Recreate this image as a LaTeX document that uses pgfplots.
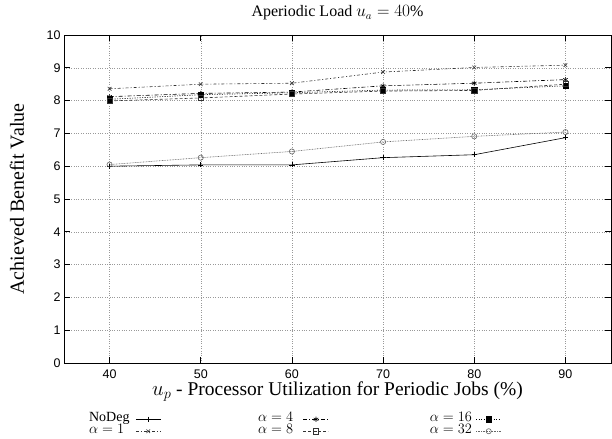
\documentclass[border=0pt]{standalone}
\usepackage{pgfplots}
\pgfplotsset{compat=1.18}
\usepackage{fontspec}
\setmainfont{Liberation Serif}
\newfontfamily\tickfont{Liberation Sans}
\begin{document}
\begin{tikzpicture}
\begin{axis}[
  name=ax,
  scale only axis,
  width=547pt, height=328pt,
  xmin=35, xmax=95,
  ymin=0, ymax=10,
  xtick={40,50,...,90},
  ytick={0,1,...,10},
  grid=major,
  major grid style={dotted, gray!80, line width=0.5pt},
  major tick length=6pt,
  tick style={black, line width=0.6pt},
  axis line style={line width=0.8pt},
  ticklabel style={font=\tickfont\fontsize{12.5}{14}\selectfont},
  xticklabel style={yshift=-3pt},
  /pgf/number format/assume math mode=true,
  every axis title shift=0pt,
  title={Aperiodic Load $u_a = 40\%$},
  title style={font=\fontsize{16}{18}\selectfont, at={(axis description cs:0.5,1.067)}, anchor=center},
  xlabel={$u_p$ - Processor Utilization for Periodic Jobs (\%)},
  xlabel style={font=\fontsize{19.5}{22}\selectfont, at={(axis description cs:0.5,-0.086)}, anchor=center},
  ylabel={Achieved Benefit Value},
  ylabel style={font=\fontsize{20}{22}\selectfont, at={(axis description cs:-0.086,0.5)}, anchor=center},
  legend columns=3,
  legend plot pos=right,
  legend cell align=left,
  legend image code/.code={\draw[mark repeat=2,mark phase=2,#1] plot coordinates {(0pt,0pt) (12.5pt,0pt) (25pt,0pt)};},
  legend style={draw=none, fill=none, font=\fontsize{14}{15}\selectfont,
    at={(axis description cs:0.04,-0.148)}, anchor=north west,
    row sep=1pt,
    nodes={inner sep=0pt, text height=8pt, text depth=3pt},
    /tikz/column 1/.style={column sep=6pt},
    /tikz/column 2/.style={column sep=97pt},
    /tikz/column 3/.style={column sep=10pt},
    /tikz/column 4/.style={column sep=101pt},
    /tikz/column 5/.style={column sep=4pt}},
  every axis plot/.append style={line width=0.6pt, mark size=2.6pt, mark options={solid}},
]
% legend row 1: NoDeg, alpha=4, alpha=16 ; row 2: alpha=1, alpha=8, alpha=32
\addplot[black, mark=+] coordinates {
  (40,6.00) (50,6.04) (60,6.04) (70,6.26) (80,6.35) (90,6.87)
};
\addlegendentry{NoDeg}
\addplot[black, mark=asterisk, dash pattern=on 4pt off 2pt on 1pt off 2pt] coordinates {
  (40,8.12) (50,8.22) (60,8.26) (70,8.45) (80,8.53) (90,8.64)
};
\addlegendentry{$\alpha = 4$}
\addplot[black, mark=square*, dash pattern=on 1pt off 1.5pt] coordinates {
  (40,8.04) (50,8.18) (60,8.24) (70,8.32) (80,8.33) (90,8.45)
};
\addlegendentry{$\alpha = 16$}
\addplot[black!80, mark=x, dash pattern=on 3pt off 2pt on 1pt off 2pt] coordinates {
  (40,8.36) (50,8.50) (60,8.53) (70,8.87) (80,9.01) (90,9.08)
};
\addlegendentry{$\alpha = 1$}
\addplot[black!80, mark=square, dash pattern=on 3pt off 2pt] coordinates {
  (40,7.99) (50,8.08) (60,8.20) (70,8.29) (80,8.31) (90,8.50)
};
\addlegendentry{$\alpha = 8$}
\addplot[black!60, mark=o, dash pattern=on 0.8pt off 0.8pt] coordinates {
  (40,6.05) (50,6.26) (60,6.45) (70,6.74) (80,6.91) (90,7.04)
};
\addlegendentry{$\alpha = 32$}
\end{axis}
\pgfresetboundingbox
\path[use as bounding box] ([xshift=-64pt,yshift=-75pt]ax.south west) rectangle ([xshift=1pt,yshift=35pt]ax.north east);
\end{tikzpicture}
\end{document}
